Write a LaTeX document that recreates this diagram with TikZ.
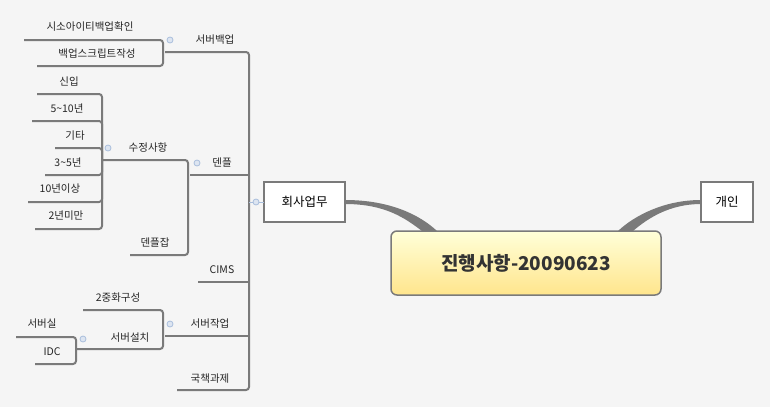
\documentclass[tikz,border=0pt]{standalone}
\usepackage{fontspec}
\newfontfamily\kr{Noto Sans CJK KR}
\usetikzlibrary{calc}
\definecolor{bg}{HTML}{F5F5F5}
\definecolor{ln}{HTML}{7A7A7A}
\definecolor{circ}{HTML}{A9BEDC}
\tikzset{
  lbl/.style={font=\kr\fontsize{10.5}{12}\selectfont, text=black!85, inner sep=1pt},
  br/.style={draw=ln, line width=2pt, rounded corners=3pt},
  topic/.style={draw=ln, line width=1.5pt, fill=white, font=\kr\fontsize{12.5}{14}\selectfont, minimum height=40pt, inner sep=0pt},
  tog/.style={circle, draw=circ, fill=circ!40, minimum size=6pt, inner sep=0pt, line width=0.8pt}
}
\newcommand{\kid}[4]{\draw[br] (#1,#2) -- (#3,#2) -- (#3,#4);}
\begin{document}
\begin{tikzpicture}[x=1pt,y=-1pt]
\fill[bg] (0,0) rectangle (770,407);
\useasboundingbox (0,0) rectangle (770,407);
% thick connectors
\fill[ln] (345,200) .. controls (390,200) and (420,215) .. (437,231) -- (422,231) .. controls (405,218) and (385,204) .. (345,204) -- cycle;
\fill[ln] (701,200) .. controls (665,200) and (635,215) .. (618,231) -- (633,231) .. controls (648,218) and (670,204) .. (701,204) -- cycle;
% central
\node[draw=ln, line width=1.5pt, rounded corners=6pt, top color=yellow!15, bottom color=yellow!55!orange!45, minimum width=270pt, minimum height=64pt, font=\kr\bfseries\fontsize{19}{22}\selectfont, text=black!80] (c) at (526,263) {진행사항-20090623};
\node[topic, minimum width=81pt] (w) at (304.5,202) {회사업무};
\node[topic, minimum width=52pt] (p) at (727,202) {개인};
% trunk
\draw[br] (165,52) -- (249,52) -- (249,390) -- (177,390);
\draw[br] (190,175) -- (249,175);
\draw[br] (198,282) -- (249,282);
\draw[br] (165,336) -- (249,336);
\draw[draw=circ, line width=1pt] (249,202) -- (264,202);
\node[tog] (t0) at (256,202) {};
% 서버백업
\kid{24}{40}{163}{52} \kid{37}{66}{163}{52}
% 덴플
\kid{103}{160}{188}{175} \kid{130}{255}{188}{175}
% 수정사항
\kid{37}{94}{102}{160} \kid{32}{121}{102}{160} \kid{55}{148}{102}{160}
\kid{45}{175}{102}{160} \kid{28}{202}{102}{160} \kid{35}{229}{102}{160}
% 서버작업
\kid{83}{310}{163}{336} \kid{77}{349}{163}{336}
% 서버설치
\kid{16}{337}{76}{349} \kid{35}{364}{76}{349}
% labels
\node[lbl] (a1) at (215,40) {서버백업};
\node[lbl] (a2) at (222,163) {덴플};
\node[lbl] (a3) at (222,270) {CIMS};
\node[lbl] (a4) at (210,324) {서버작업};
\node[lbl] (a5) at (210,379) {국책과제};
\node[lbl] (b1) at (90,27) {시소아이티백업확인};
\node[lbl] (b2) at (97,54) {백업스크립트작성};
\node[lbl] (b3) at (148,148) {수정사항};
\node[lbl] (b4) at (155,243) {덴플잡};
\node[lbl] (d1) at (69,82) {신입};
\node[lbl] (d2) at (67,108) {5\textasciitilde10년};
\node[lbl] (d3) at (75,136) {기타};
\node[lbl] (d4) at (68,162) {3\textasciitilde5년};
\node[lbl] (d5) at (60,189) {10년이상};
\node[lbl] (d6) at (66,216) {2년미만};
\node[lbl] (e1) at (118,298) {2중화구성};
\node[lbl] (e2) at (130,338) {서버설치};
\node[lbl] (f1) at (42,324) {서버실};
\node[lbl] (f2) at (52,352) {IDC};
% toggles
\node[tog] at (170,40) {};
\node[tog] at (197,163) {};
\node[tog] at (170,324) {};
\node[tog] at (108,148) {};
\node[tog] at (83,339) {};
\end{tikzpicture}
\end{document}
